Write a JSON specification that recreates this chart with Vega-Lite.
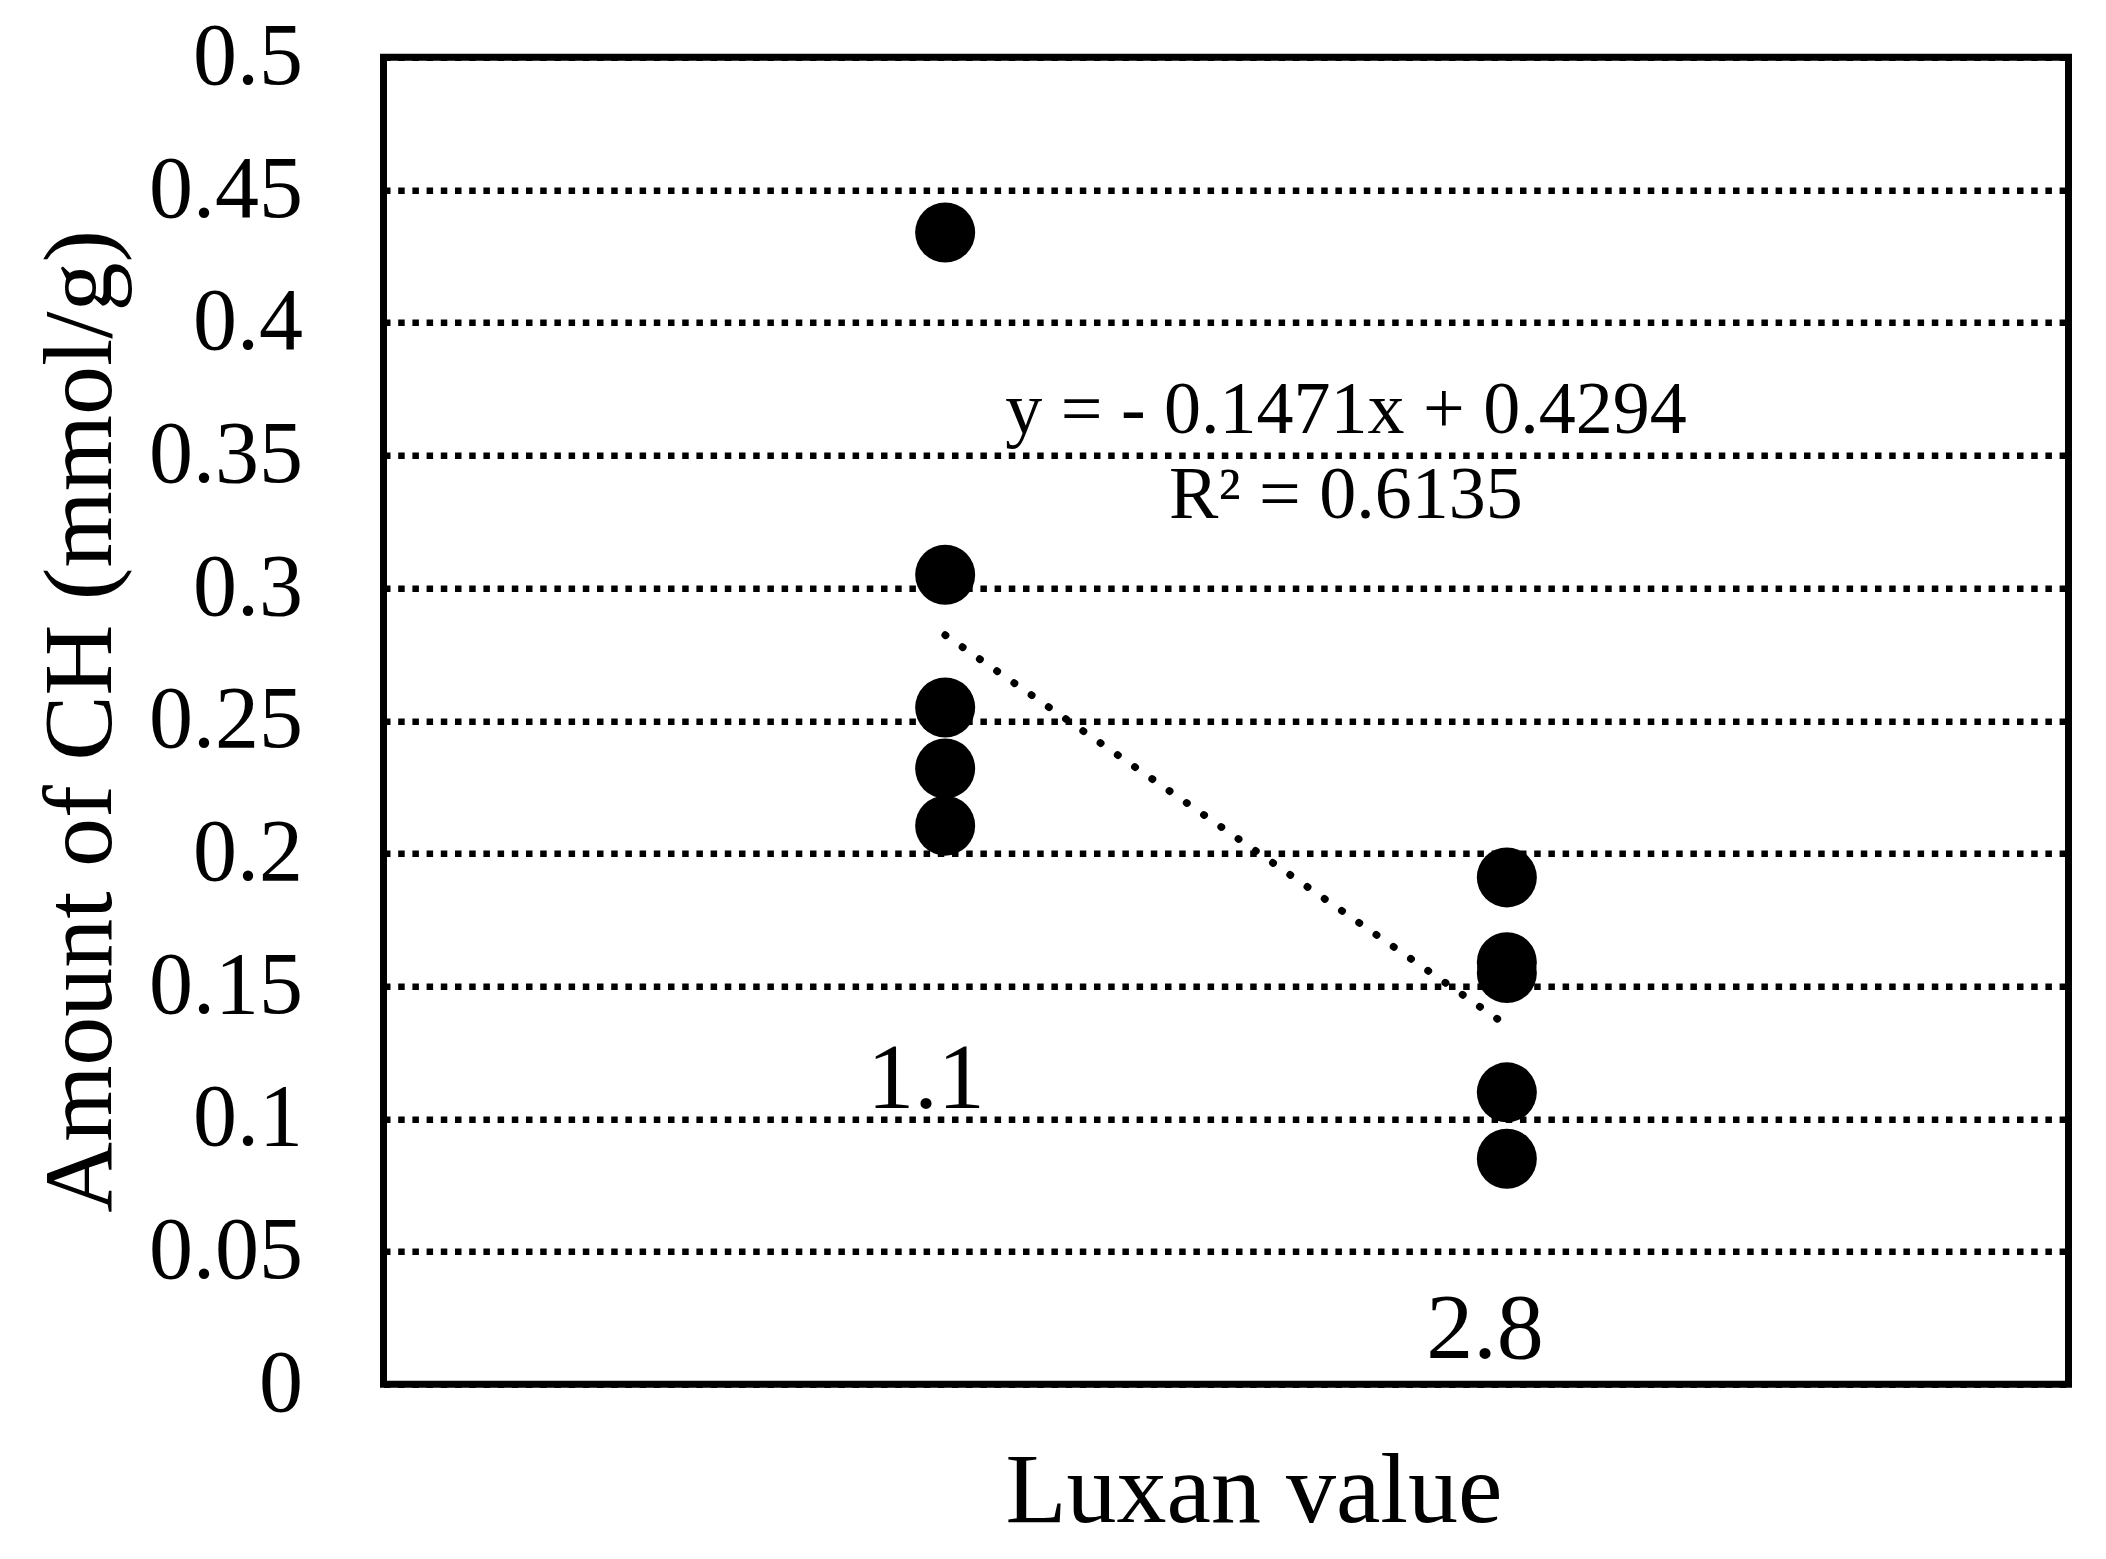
{
  "$schema": "https://vega.github.io/schema/vega-lite/v6.json",
  "width": 1685,
  "height": 1327,
  "autosize": {"type": "none"},
  "padding": {"left": 383.5, "top": 57.3, "right": 37.5, "bottom": 174.7},
  "background": "white",
  "config": {
    "view": {"stroke": "black", "strokeWidth": 7},
    "font": "Liberation Serif"
  },
  "datasets": {
    "points": [
      {"luxan": "1.1", "pos": 1, "ch": 0.434},
      {"luxan": "1.1", "pos": 1, "ch": 0.305},
      {"luxan": "1.1", "pos": 1, "ch": 0.255},
      {"luxan": "1.1", "pos": 1, "ch": 0.232},
      {"luxan": "1.1", "pos": 1, "ch": 0.2105},
      {"luxan": "2.8", "pos": 2, "ch": 0.191},
      {"luxan": "2.8", "pos": 2, "ch": 0.159},
      {"luxan": "2.8", "pos": 2, "ch": 0.155},
      {"luxan": "2.8", "pos": 2, "ch": 0.110},
      {"luxan": "2.8", "pos": 2, "ch": 0.085}
    ],
    "trend": [
      {"pos": 1, "ch": 0.2823},
      {"pos": 2, "ch": 0.1352}
    ],
    "catlabels": [
      {"pos": 0.966, "ch": 0.104, "text": "1.1"},
      {"pos": 1.961, "ch": 0.0098, "text": "2.8"}
    ],
    "equation": [
      {"pos": 1.7136, "ch": 0.3585, "text": "y = - 0.1471x + 0.4294"},
      {"pos": 1.7136, "ch": 0.3265, "text": "R² = 0.6135"}
    ]
  },
  "layer": [
    {
      "data": {"name": "points"},
      "mark": {"type": "circle", "size": 3600, "color": "black", "opacity": 1},
      "encoding": {
        "x": {
          "field": "pos",
          "type": "quantitative",
          "scale": {"domain": [0, 3], "nice": false, "zero": false},
          "axis": {
            "title": "Luxan value",
            "labels": false,
            "ticks": false,
            "domain": false,
            "grid": false,
            "titleFont": "Liberation Serif",
            "titleFontSize": 100,
            "titleFontWeight": "normal",
            "titleColor": "black",
            "titleX": 870,
            "titleY": 137,
            "titleBaseline": "alphabetic",
            "titleAlign": "center"
          }
        },
        "y": {
          "field": "ch",
          "type": "quantitative",
          "scale": {"domain": [0, 0.5], "nice": false},
          "axis": {
            "title": "Amount of CH (mmol/g)",
            "values": [0, 0.05, 0.1, 0.15, 0.2, 0.25, 0.3, 0.35, 0.4, 0.45, 0.5],
            "format": "~g",
            "labelFont": "Liberation Serif",
            "labelFontSize": 88,
            "labelColor": "black",
            "labelPadding": 81,
            "labelFlush": false,
            "labelOverlap": false,
            "labelBound": false,
            "ticks": false,
            "tickSize": 0,
            "domain": false,
            "grid": true,
            "gridColor": "black",
            "gridWidth": 6.5,
            "gridDash": [6.5, 7.7],
            "gridOpacity": 1,
            "titleFont": "Liberation Serif",
            "titleFontSize": 98,
            "titleFontWeight": "normal",
            "titleColor": "black",
            "titleAngle": -90,
            "titleX": -273.5,
            "titleY": 663.5,
            "titleBaseline": "alphabetic",
            "titleAlign": "center"
          }
        }
      }
    },
    {
      "data": {"name": "trend"},
      "mark": {"type": "line", "color": "black", "strokeWidth": 7.5, "strokeDash": [0.5, 20.5], "strokeCap": "round"},
      "encoding": {
        "x": {"field": "pos", "type": "quantitative"},
        "y": {"field": "ch", "type": "quantitative"}
      }
    },
    {
      "data": {"name": "catlabels"},
      "mark": {"type": "text", "font": "Liberation Serif", "fontSize": 94, "color": "black", "align": "center", "baseline": "alphabetic"},
      "encoding": {
        "x": {"field": "pos", "type": "quantitative"},
        "y": {"field": "ch", "type": "quantitative"},
        "text": {"field": "text"}
      }
    },
    {
      "data": {"name": "equation"},
      "mark": {"type": "text", "font": "Liberation Serif", "fontSize": 74, "color": "black", "align": "center", "baseline": "alphabetic"},
      "encoding": {
        "x": {"field": "pos", "type": "quantitative"},
        "y": {"field": "ch", "type": "quantitative"},
        "text": {"field": "text"}
      }
    }
  ]
}
